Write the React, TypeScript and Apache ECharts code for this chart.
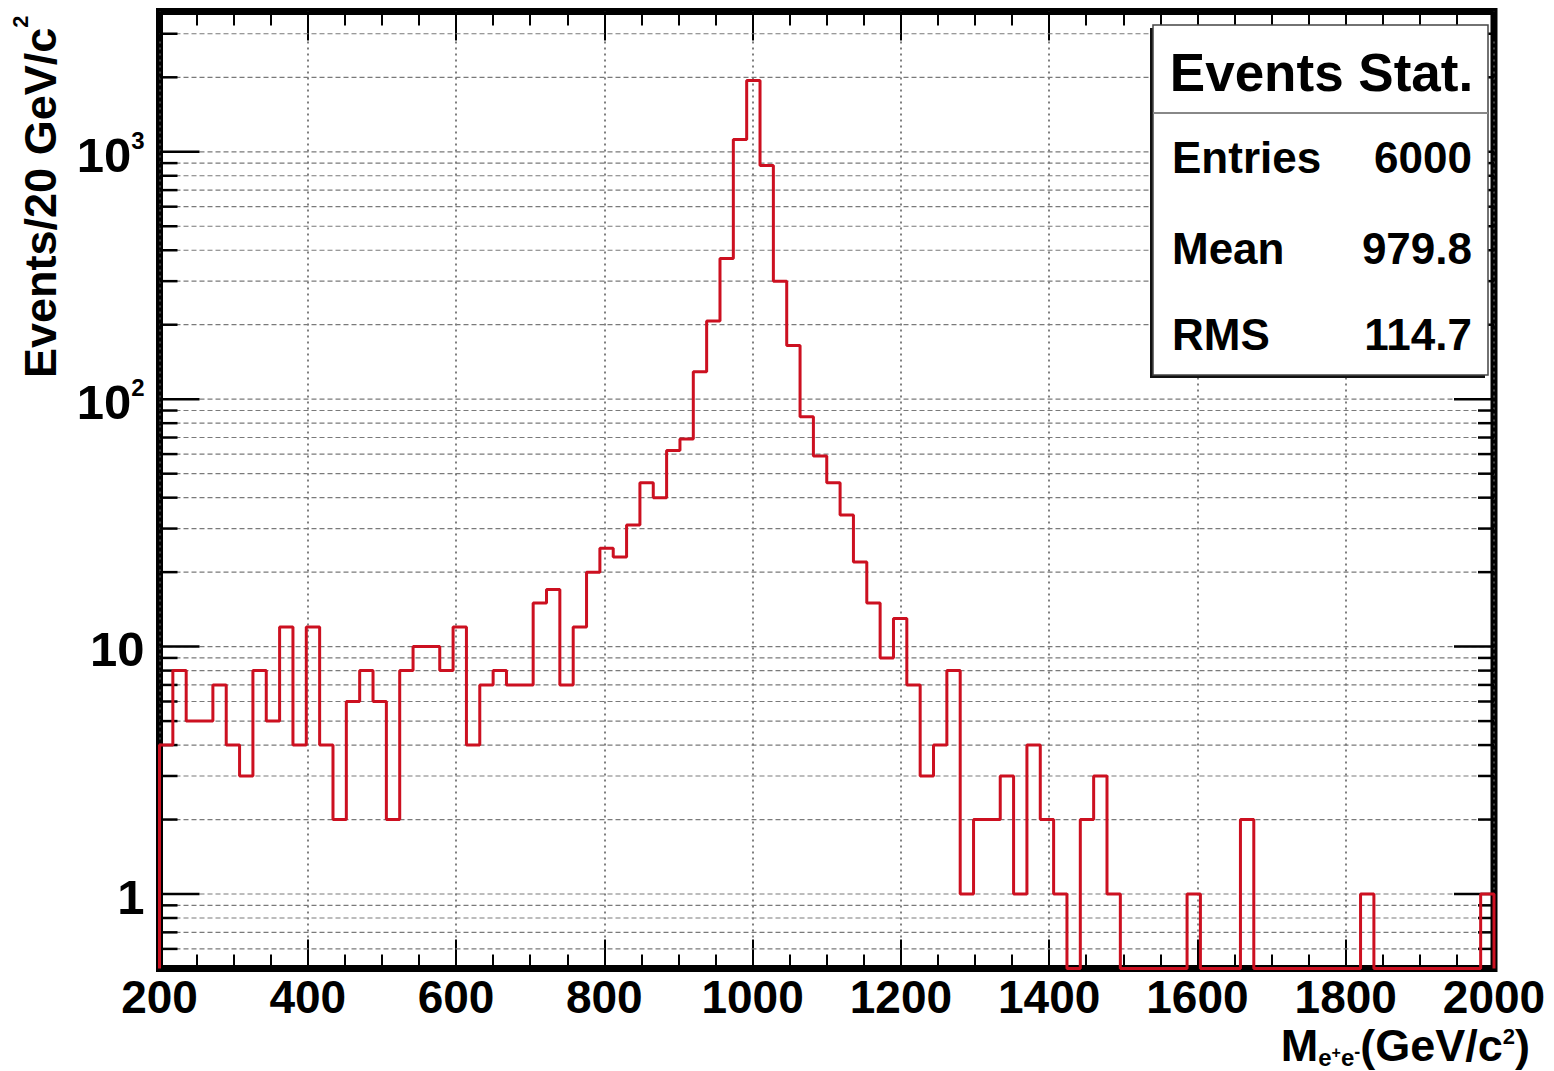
import React, { useEffect, useRef } from 'react';
import * as echarts from 'echarts';

// ---------- data ----------
const X_MIN = 200;
const X_MAX = 2000;
const BIN_WIDTH = 18;
const X_TICK_STEP = 200;
const Y_MIN = 0.5;
const Y_MAX = 3690;

// 100 bins of 18 GeV from 200 to 2000
const binCounts = [
  4, 8, 5, 5, 7, 4, 3, 8, 5, 12,
  4, 12, 4, 2, 6, 8, 6, 2, 8, 10,
  10, 8, 12, 4, 7, 8, 7, 7, 15, 17,
  7, 12, 20, 25, 23, 31, 46, 40, 62, 69,
  129, 207, 370, 1120, 1940, 880, 300, 165, 85, 59,
  46, 34, 22, 15, 9, 13, 7, 3, 4, 8,
  1, 2, 2, 3, 1, 4, 2, 1, 0, 2,
  3, 1, 0, 0, 0, 0, 0, 1, 0, 0,
  0, 2, 0, 0, 0, 0, 0, 0, 0, 0,
  1, 0, 0, 0, 0, 0, 0, 0, 0, 1,
];

const statTitle = 'Events Stat.';
const statLabels = ['Entries', 'Mean', 'RMS'];
const statValues = ['6000', '979.8', '114.7'];

const yTitleMain = 'Events/20 GeV/c';
const yTitleSup = '2';

const FONT = '"Liberation Sans", Arial, Helvetica, sans-serif';

type Piece = { t: string; s: number; dy: number };

const xTitlePieces: Piece[] = [
  { t: 'M', s: 45, dy: 0 },
  { t: 'e', s: 24, dy: 5 },
  { t: '+', s: 16, dy: -3 },
  { t: 'e', s: 24, dy: 5 },
  { t: '-', s: 18, dy: -3 },
  { t: '(GeV/c', s: 45, dy: 0 },
  { t: '2', s: 22, dy: -17 },
  { t: ')', s: 45, dy: 0 },
];

const yTitlePieces: Piece[] = [
  { t: yTitleMain, s: 45, dy: 0 },
  { t: yTitleSup, s: 22, dy: -28 },
];

// ---------- helpers ----------
let measureCtx: CanvasRenderingContext2D | null = null;
function textWidth(t: string, size: number): number {
  if (!measureCtx) measureCtx = document.createElement('canvas').getContext('2d');
  measureCtx!.font = `bold ${size}px ${FONT}`;
  return measureCtx!.measureText(t).width;
}

function txtStyle(text: string, size: number, align: string) {
  return {
    text,
    fontSize: size,
    fontWeight: 'bold',
    fontFamily: FONT,
    fill: '#000',
    align,
    textAlign: align,
    verticalAlign: 'middle',
    textVerticalAlign: 'middle',
  };
}

function piecesWidth(pieces: Piece[]) {
  return pieces.reduce((a, p) => a + textWidth(p.t, p.s), 0);
}

function pieceTexts(pieces: Piece[], xStart: number, baseY: number, z?: number) {
  let x = xStart;
  return pieces.map((p) => {
    const el: any = {
      type: 'text',
      x,
      y: baseY + p.dy - 0.35 * p.s,
      style: txtStyle(p.t, p.s, 'left'),
    };
    if (z !== undefined) el.z = z;
    x += textWidth(p.t, p.s);
    return el;
  });
}

function buildGridValues(): number[] {
  const vals: number[] = [];
  for (let e = -1; e <= 4; e++) {
    for (let m = 1; m <= 9; m++) {
      const v = m * Math.pow(10, e);
      if (v > Y_MIN * 1.0001 && v < Y_MAX * 0.9999) vals.push(v);
    }
  }
  return vals;
}

function isDecade(v: number) {
  const l = Math.log10(v);
  return Math.abs(l - Math.round(l)) < 1e-6;
}

function decadePieces(v: number): Piece[] {
  const e = Math.round(Math.log10(v));
  if (e === 0) return [{ t: '1', s: 49, dy: 0 }];
  if (e === 1) return [{ t: '10', s: 49, dy: 0 }];
  return [
    { t: '10', s: 49, dy: 0 },
    { t: String(e), s: 24, dy: -23 },
  ];
}

export default function App() {
  const ref = useRef<HTMLDivElement>(null);

  useEffect(() => {
    document.body.style.margin = '0';
    if (!ref.current) return;
    const chart = echarts.init(ref.current, undefined, { renderer: 'svg' });

    const histPoints: number[][] = [[X_MIN, Y_MIN]];
    binCounts.forEach((c, i) => {
      histPoints.push([X_MIN + BIN_WIDTH * i, Math.max(c, Y_MIN)]);
    });
    histPoints.push([X_MAX, Math.max(binCounts[binCounts.length - 1], Y_MIN)]);
    histPoints.push([X_MAX, Y_MIN]);

    const gridValues = buildGridValues();

    const tickStyle = { color: '#000', width: 2 };

    // stats box geometry (layout)
    const bx = 1153, by = 25, bw = 335, bh = 350;
    const rowsY = [157.5, 248, 334];

    const graphics: any[] = [
      { type: 'rect', z: 10, shape: { x: bx - 3, y: by + 3, width: bw, height: bh }, style: { fill: '#111' } },
      { type: 'rect', z: 11, shape: { x: bx, y: by, width: bw, height: bh }, style: { fill: '#fff', stroke: '#444', lineWidth: 1.5 } },
      { type: 'line', z: 12, shape: { x1: bx, y1: 113, x2: bx + bw, y2: 113 }, style: { stroke: '#888', lineWidth: 2 } },
      { type: 'text', z: 12, x: bx + bw / 2 + 1, y: 72, style: txtStyle(statTitle, 53, 'center') },
    ];
    statLabels.forEach((lab, i) => {
      graphics.push({ type: 'text', z: 12, x: 1172, y: rowsY[i], style: txtStyle(lab, 44, 'left') });
      graphics.push({ type: 'text', z: 12, x: 1472, y: rowsY[i], style: txtStyle(statValues[i], 44, 'right') });
    });
    // x axis title, right aligned
    const xtW = piecesWidth(xTitlePieces);
    pieceTexts(xTitlePieces, 1530 - xtW, 1061, 12).forEach((e) => graphics.push(e));
    // y axis title, rotated
    graphics.push({
      type: 'group',
      x: 56,
      y: 378,
      rotation: Math.PI / 2,
      children: pieceTexts(yTitlePieces, 0, 0),
    });

    const option: any = {
      animation: false,
      backgroundColor: '#fff',
      grid: {
        left: 159.5,
        right: 60,
        top: 11.5,
        bottom: 102.5,
        show: true,
        borderColor: '#000',
        borderWidth: 7,
        backgroundColor: '#fff',
      },
      xAxis: [
        {
          type: 'value',
          min: X_MIN,
          max: X_MAX,
          interval: X_TICK_STEP,
          position: 'bottom',
          axisLine: { show: false },
          axisTick: { show: true, inside: true, length: 29, lineStyle: tickStyle },
          minorTick: { show: true, splitNumber: 4, length: 14, lineStyle: tickStyle },
          axisLabel: {
            fontFamily: FONT,
            fontWeight: 'bold',
            fontSize: 46,
            color: '#000',
            margin: 5,
            formatter: (v: number) => String(v),
          },
          splitLine: { show: true, lineStyle: { color: '#555', width: 1.5, type: [2, 4] } },
        },
        {
          type: 'value',
          min: X_MIN,
          max: X_MAX,
          interval: X_TICK_STEP,
          position: 'top',
          axisLine: { show: false },
          axisTick: { show: true, inside: true, length: 29, lineStyle: tickStyle },
          minorTick: { show: true, splitNumber: 4, length: 14, lineStyle: tickStyle },
          axisLabel: { show: false },
          splitLine: { show: false },
        },
      ],
      yAxis: {
        type: 'log',
        logBase: 10,
        min: Y_MIN,
        max: Y_MAX,
        axisLine: { show: false },
        axisTick: { show: false },
        axisLabel: { show: false },
        splitLine: { show: false },
      },
      graphic: graphics,
      series: [
        {
          type: 'custom',
          xAxisIndex: 0,
          yAxisIndex: 0,
          z: 1,
          silent: true,
          encode: { x: 0, y: 1 },
          data: gridValues.map((v) => [X_MIN, v]),
          renderItem: (params: any, api: any) => {
            const v = api.value(1);
            const p = api.coord([X_MIN, v]);
            const cs = params.coordSys;
            const y = p[1];
            const major = isDecade(v);
            const children: any[] = [
              {
                type: 'line',
                shape: { x1: cs.x, y1: y, x2: cs.x + cs.width, y2: y },
                style: { stroke: '#7a7a7a', lineWidth: 1.2, lineDash: [5, 3] },
              },
              {
                type: 'line',
                shape: { x1: cs.x, y1: y, x2: cs.x + (major ? 40 : 18), y2: y },
                style: { stroke: '#000', lineWidth: 2.5 },
              },
              {
                type: 'line',
                shape: { x1: cs.x + cs.width - (major ? 40 : 16), y1: y, x2: cs.x + cs.width, y2: y },
                style: { stroke: '#000', lineWidth: 2.5 },
              },
            ];
            if (major) {
              const pcs = decadePieces(v);
              const w = piecesWidth(pcs);
              pieceTexts(pcs, cs.x - 15 - w, y + 20).forEach((e) => children.push(e));
            }
            return { type: 'group', children };
          },
        },
        {
          type: 'line',
          xAxisIndex: 0,
          yAxisIndex: 0,
          z: 5,
          step: 'end',
          data: histPoints,
          showSymbol: false,
          symbol: 'none',
          clip: false,
          silent: true,
          lineStyle: { color: '#cc1020', width: 3 },
        },
      ],
    };

    chart.setOption(option);
    return () => chart.dispose();
  }, []);

  return (
    <div
      ref={ref}
      style={{ position: 'absolute', left: 0, top: 0, width: 1554, height: 1071, background: '#fff' }}
    />
  );
}
